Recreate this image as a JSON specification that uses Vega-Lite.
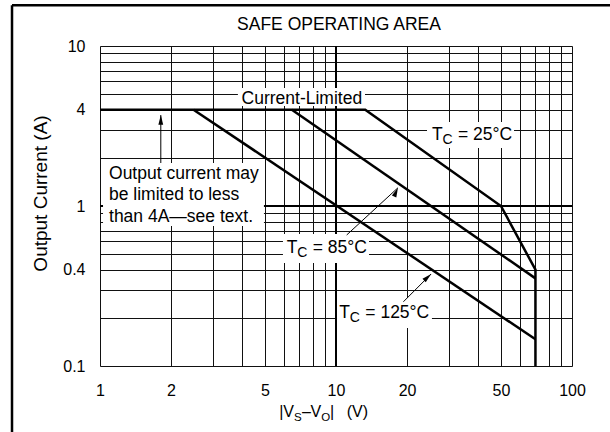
{
  "$schema": "https://vega.github.io/schema/vega-lite/v6.json",
  "width": 472,
  "height": 320,
  "autosize": {"type": "none"},
  "padding": {"left": 100, "top": 46, "right": 38, "bottom": 66},
  "background": "white",
  "title": {"text": "SAFE OPERATING AREA", "fontSize": 17.5, "fontWeight": "normal", "color": "black", "font": "Liberation Sans", "anchor": "middle", "frame": "group", "baseline": "alphabetic", "offset": -43.25, "dx": 3},
  "datasets": {
    "frame": [
      {"x": 0.4238, "y": 17.96, "x2": 152, "y2": 17.96},
      {"x": 0.4238, "y": 17.96, "x2": 0.4238, "y2": 0.0345}
    ],
    "decades": [
      {"x": 10, "y": 0.1, "x2": 10, "y2": 10},
      {"x": 1, "y": 1, "x2": 100, "y2": 1}
    ],
    "boxes": [
      {"x": 3.84, "x2": 13.27, "y": 5.46, "y2": 4.22},
      {"x": 1.03, "x2": 4.95, "y": 1.857, "y2": 0.75},
      {"x": 24.3, "x2": 56.8, "y": 3.35, "y2": 2.3},
      {"x": 5.96, "x2": 13.8, "y": 0.668, "y2": 0.441},
      {"x": 10.1, "x2": 25.5, "y": 0.266, "y2": 0.173}
    ],
    "curves": [
      {"series": "25°C", "order": 1, "x": 1, "y": 4},
      {"series": "25°C", "order": 2, "x": 13.3, "y": 4},
      {"series": "25°C", "order": 3, "x": 50, "y": 1},
      {"series": "25°C", "order": 4, "x": 70, "y": 0.4},
      {"series": "25°C", "order": 5, "x": 70, "y": 0.1},
      {"series": "85°C", "order": 1, "x": 6.5, "y": 4},
      {"series": "85°C", "order": 2, "x": 70, "y": 0.353},
      {"series": "125°C", "order": 1, "x": 2.49, "y": 4},
      {"series": "125°C", "order": 2, "x": 70, "y": 0.147}
    ],
    "arrows": [
      {"arrow": "limit", "x": 1.81, "y": 3.7, "x2": 1.81, "y2": 1.857},
      {"arrow": "85°C", "x": 18.3, "y": 1.3, "x2": 11.1, "y2": 0.659},
      {"arrow": "125°C", "x": 25.3, "y": 0.376, "x2": 19.3, "y2": 0.252}
    ],
    "notes": [
      {"x": 3.98, "y": 4.37, "text": "Current-Limited"},
      {"x": 1.092, "y": 1.475, "text": "Output current may"},
      {"x": 1.092, "y": 1.09, "text": "be limited to less"},
      {"x": 1.092, "y": 0.798, "text": "than 4A—see text."}
    ],
    "tc": [
      {"x": 25.5, "y": 2.585, "rest": "= 25°C"},
      {"x": 6.18, "y": 0.508, "rest": "= 85°C"},
      {"x": 10.33, "y": 0.1995, "rest": "= 125°C"}
    ],
    "xtitle": [
      {"kind": "main", "x": 5.744, "y": 0.0478, "text": "|V"},
      {"kind": "sub", "x": 6.644, "y": 0.0478, "text": "S"},
      {"kind": "main", "x": 7.178, "y": 0.0478, "text": "–"},
      {"kind": "main", "x": 7.797, "y": 0.0478, "text": "V"},
      {"kind": "sub", "x": 8.655, "y": 0.0478, "text": "O"},
      {"kind": "main", "x": 9.432, "y": 0.0478, "text": "|"},
      {"kind": "main", "x": 11.1, "y": 0.0478, "text": "(V)"}
    ]
  },
  "encoding": {
    "x": {
      "field": "x", "type": "quantitative",
      "scale": {"type": "log", "domain": [1, 100], "nice": false},
      "axis": {
        "values": [1, 2, 3, 4, 5, 6, 7, 8, 9, 10, 20, 30, 40, 50, 60, 70, 80, 90, 100],
        "labelExpr": "indexof([1, 2, 5, 10, 20, 50, 100], datum.value) >= 0 ? format(datum.value, '~g') : ''",
        "grid": true, "gridColor": "#111", "gridWidth": 1, "gridOpacity": 1,
        "ticks": false, "tickSize": 0, "domain": false,
        "labelPadding": 16, "labelFontSize": 16, "labelColor": "black", "labelFont": "Liberation Sans",
        "labelFlush": false, "labelOverlap": false, "labelBound": false,
        "title": null
      }
    },
    "y": {
      "field": "y", "type": "quantitative",
      "scale": {"type": "log", "domain": [0.1, 10], "nice": false},
      "axis": {
        "values": [0.1, 0.2, 0.3, 0.4, 0.5, 0.6, 0.7, 0.8, 0.9, 1, 2, 3, 4, 5, 6, 7, 8, 9, 10],
        "labelExpr": "indexof([0.1, 0.4, 1, 4, 10], datum.value) >= 0 ? format(datum.value, '~g') : ''",
        "grid": true, "gridColor": "#111", "gridWidth": 1, "gridOpacity": 1,
        "ticks": false, "tickSize": 0, "domain": false,
        "labelPadding": 15, "labelFontSize": 16, "labelColor": "black", "labelFont": "Liberation Sans",
        "labelFlush": false, "labelOverlap": false, "labelBound": false,
        "title": "Output Current (A)",
        "titleFont": "Liberation Sans", "titleFontSize": 19, "titleFontWeight": "normal", "titleColor": "black",
        "titleX": -54, "titleY": 147, "titleBaseline": "alphabetic", "titleAlign": "center", "titleAngle": -90
      }
    }
  },
  "layer": [
    {
      "data": {"name": "frame"},
      "mark": {"type": "rule", "color": "black", "strokeWidth": 2.5, "clip": false},
      "encoding": {"x2": {"field": "x2"}, "y2": {"field": "y2"}}
    },
    {
      "data": {"name": "decades"},
      "mark": {"type": "rule", "color": "black", "strokeWidth": 2},
      "encoding": {"x2": {"field": "x2"}, "y2": {"field": "y2"}}
    },
    {
      "data": {"name": "boxes"},
      "mark": {"type": "rect", "fill": "white", "stroke": null},
      "encoding": {"x2": {"field": "x2"}, "y2": {"field": "y2"}}
    },
    {
      "data": {"name": "curves"},
      "mark": {"type": "line", "color": "black", "strokeWidth": 2.5, "strokeJoin": "miter"},
      "encoding": {"detail": {"field": "series"}, "order": {"field": "order", "type": "quantitative"}}
    },
    {
      "data": {"name": "arrows"},
      "mark": {"type": "rule", "color": "black", "strokeWidth": 1},
      "encoding": {"x2": {"field": "x2"}, "y2": {"field": "y2"}}
    },
    {
      "data": {"name": "arrows"},
      "mark": {"type": "point", "shape": "M0,0L0.4,1.6L-0.4,1.6Z", "filled": true, "color": "black", "size": 144, "opacity": 1, "strokeWidth": 0},
      "encoding": {
        "angle": {"field": "arrow", "type": "nominal", "scale": {"domain": ["limit", "85°C", "125°C"], "range": [0, 47, 44]}, "legend": null}
      }
    },
    {
      "data": {"name": "notes"},
      "mark": {"type": "text", "align": "left", "baseline": "alphabetic", "fontSize": 17.5, "font": "Liberation Sans", "color": "black"},
      "encoding": {"text": {"field": "text"}}
    },
    {
      "data": {"name": "tc"},
      "mark": {"type": "text", "align": "left", "baseline": "alphabetic", "fontSize": 17.5, "font": "Liberation Sans", "color": "black", "text": "T"},
      "encoding": {}
    },
    {
      "data": {"name": "tc"},
      "mark": {"type": "text", "align": "left", "baseline": "alphabetic", "fontSize": 14, "font": "Liberation Sans", "color": "black", "text": "C", "dx": 10.5, "dy": 4}
    },
    {
      "data": {"name": "tc"},
      "mark": {"type": "text", "align": "left", "baseline": "alphabetic", "fontSize": 17.5, "font": "Liberation Sans", "color": "black", "dx": 26},
      "encoding": {"text": {"field": "rest"}}
    },
    {
      "data": {"name": "xtitle"},
      "transform": [{"filter": "datum.kind === 'main'"}],
      "mark": {"type": "text", "align": "left", "baseline": "alphabetic", "fontSize": 16, "font": "Liberation Sans", "color": "black", "clip": false},
      "encoding": {"text": {"field": "text"}}
    },
    {
      "data": {"name": "xtitle"},
      "transform": [{"filter": "datum.kind === 'sub'"}],
      "mark": {"type": "text", "align": "left", "baseline": "alphabetic", "fontSize": 11.5, "font": "Liberation Sans", "color": "black", "dy": 3.5, "clip": false},
      "encoding": {"text": {"field": "text"}}
    }
  ]
}
